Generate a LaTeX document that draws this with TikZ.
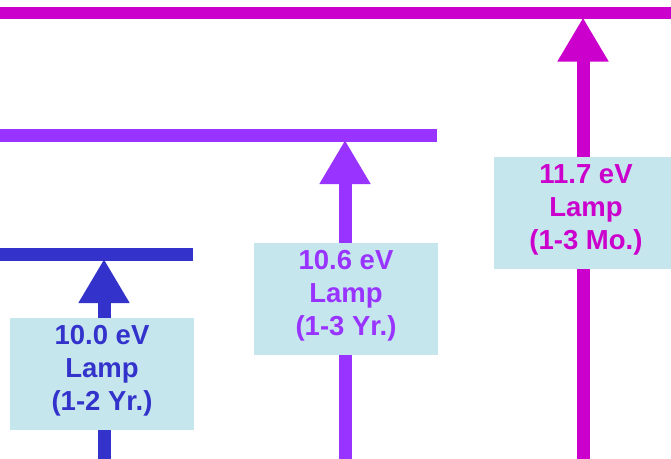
\documentclass[tikz,border=0pt]{standalone}
\usepackage{fontspec}
\setmainfont{Liberation Sans}
\usetikzlibrary{arrows.meta}
\definecolor{cblue}{HTML}{3333CC}
\definecolor{cpurple}{HTML}{9933FF}
\definecolor{cmag}{HTML}{CC00CC}
\definecolor{boxfill}{HTML}{C6E6EE}
\begin{document}
\begin{tikzpicture}[x=1pt,y=-1pt,
  bar/.style={fill=#1, inner sep=0pt, minimum height=12.6pt, anchor=west},
  lamp/.style={draw=#1, line width=13pt, -{Triangle[length=44pt,width=48pt]}},
  lampbox/.style={fill=boxfill, inner sep=0pt, minimum width=184pt, minimum height=112pt},
  lamptext/.style={text=#1, align=center, inner sep=0pt, font=\bfseries\fontsize{27.5}{33}\selectfont}]
\useasboundingbox (0,0) rectangle (671,458);
% energy levels
\node[bar=cmag, minimum width=671pt] (lvlC) at (0,13) {};
\node[bar=cpurple, minimum width=437pt] (lvlB) at (0,135.5) {};
\node[bar=cblue, minimum width=193pt] (lvlA) at (0,254.5) {};
% feet of arrows
\coordinate (footA) at (104,462);
\coordinate (footB) at (345,462);
\coordinate (footC) at (583,462);
% arrows
\draw[lamp=cblue] (footA) -- ([yshift=2pt]footA |- lvlA.south);
\draw[lamp=cpurple] (footB) -- ([yshift=2pt]footB |- lvlB.south);
\draw[lamp=cmag] (footC) -- ([yshift=2pt]footC |- lvlC.south);
% boxes
\node[lampbox] (boxA) at (102,374) {};
\node[lampbox] (boxB) at (346,299) {};
\node[lampbox] (boxC) at (586,212.5) {};
\node[lamptext=cblue] (txtA) at ([yshift=3pt]boxA.center) {10.0 eV\\Lamp\\(1-2 Yr.)};
\node[lamptext=cpurple] (txtB) at ([yshift=3pt]boxB.center) {10.6 eV\\Lamp\\(1-3 Yr.)};
\node[lamptext=cmag] (txtC) at ([yshift=3pt]boxC.center) {11.7 eV\\Lamp\\(1-3 Mo.)};
\end{tikzpicture}
\end{document}
